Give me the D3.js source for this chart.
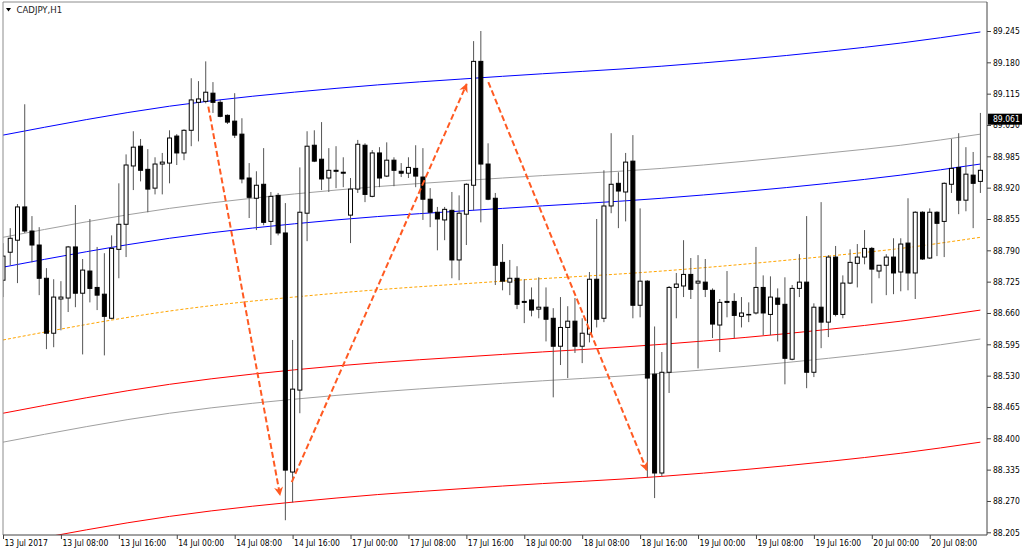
<!DOCTYPE html>
<html>
<head>
<meta charset="utf-8">
<script src="https://cdn.jsdelivr.net/npm/d3@7"></script>
<style>
body { margin: 0; background: #fff; }
svg { display: block; }
</style>
</head>
<body>
<svg id="chart" width="1024" height="554"></svg>
<script>
// CADJPY H1, 13 Jul 2017 00:00 .. 20 Jul 2017 15:00 (bar 0 .. 135)
var symbolTitle = "CADJPY,H1"

var opens = [88.728,88.786,88.811,88.880,88.830,88.801,88.732,88.618,88.689,88.691,
88.797,88.701,88.747,88.713,88.699,88.649,88.792,88.844,88.965,89.006,
88.958,88.919,88.969,88.971,89.027,88.992,89.039,89.097,89.099,89.116,
89.097,89.070,89.058,89.031,88.940,88.898,88.927,88.850,88.904,88.826,
88.330,88.500,88.867,89.008,88.979,88.940,88.956,88.952,88.863,88.917,
89.008,88.902,88.992,88.944,88.977,88.954,88.950,88.960,88.942,88.896,
88.869,88.853,88.873,88.770,88.865,88.925,89.182,88.969,88.898,88.765,
88.724,88.732,88.684,88.687,88.668,88.672,88.649,88.591,88.630,88.643,
88.591,88.616,88.730,88.649,88.882,88.929,88.911,88.975,88.676,88.726,
88.533,88.328,88.537,88.713,88.716,88.740,88.722,88.724,88.707,88.635,
88.684,88.684,88.653,88.657,88.660,88.713,88.657,88.691,88.678,88.564,
88.711,88.724,88.537,88.672,88.641,88.776,88.657,88.722,88.763,88.776,
88.794,88.747,88.759,88.776,88.745,88.805,88.743,88.869,88.774,88.869,
88.850,88.927,88.962,88.894,88.946,88.933]

var highs = [88.805,88.836,88.886,89.093,88.861,88.838,88.753,88.730,88.726,88.799,
88.884,88.772,88.855,88.797,88.784,88.821,88.929,88.989,89.037,89.021,
89.000,88.983,88.992,89.039,89.031,89.041,89.147,89.141,89.182,89.139,
89.102,89.072,89.116,89.064,88.971,88.954,89.002,88.911,88.909,88.888,
88.604,88.962,89.037,89.039,89.056,89.002,89.006,88.983,88.940,89.019,
89.012,88.998,89.004,89.014,88.983,88.971,88.983,89.008,89.002,88.919,
88.880,88.880,88.911,88.904,88.929,89.224,89.245,89.012,88.909,88.803,
88.770,88.757,88.730,88.713,88.734,88.713,88.670,88.693,88.674,88.691,
88.649,88.745,88.855,88.956,89.033,88.952,88.992,89.029,88.877,88.728,
88.632,88.579,88.716,88.743,88.811,88.774,88.780,88.772,88.711,88.689,
88.747,88.701,88.693,88.682,88.797,88.738,88.736,88.711,88.734,88.718,
88.782,88.861,88.680,88.890,88.780,88.799,88.738,88.792,88.803,88.832,
88.797,88.759,88.782,88.815,88.815,88.898,88.871,88.871,88.877,88.871,
88.931,89.021,89.033,89.004,88.994,89.075]

var lows = [88.693,88.759,88.722,88.826,88.765,88.697,88.585,88.589,88.624,88.662,
88.672,88.574,88.682,88.666,88.572,88.647,88.732,88.776,88.915,88.933,
88.869,88.906,88.906,88.929,88.967,88.977,89.006,89.016,89.095,89.075,
89.066,89.052,89.023,88.929,88.857,88.832,88.842,88.801,88.821,88.230,
88.267,88.452,88.809,88.973,88.915,88.911,88.919,88.921,88.805,88.909,
88.890,88.900,88.921,88.942,88.923,88.942,88.940,88.921,88.853,88.838,
88.790,88.811,88.732,88.728,88.801,88.873,88.848,88.894,88.718,88.707,
88.697,88.668,88.639,88.653,88.649,88.601,88.485,88.552,88.525,88.577,
88.556,88.599,88.630,88.641,88.867,88.836,88.850,88.649,88.651,88.319,
88.276,88.321,88.494,88.649,88.693,88.689,88.545,88.693,88.608,88.579,
88.651,88.608,88.630,88.641,88.657,88.614,88.614,88.601,88.512,88.562,
88.693,88.504,88.527,88.587,88.610,88.653,88.649,88.720,88.713,88.761,
88.680,88.732,88.697,88.699,88.705,88.707,88.689,88.770,88.772,88.778,
88.776,88.909,88.865,88.871,88.836,88.909]

var closes = [88.778,88.815,88.880,88.830,88.801,88.732,88.618,88.693,88.693,88.797,
88.701,88.749,88.711,88.697,88.653,88.794,88.844,88.967,89.004,88.956,
88.917,88.969,88.973,89.023,88.992,89.039,89.102,89.104,89.118,89.097,
89.068,89.056,89.029,88.938,88.900,88.925,88.848,88.902,88.826,88.334,
88.502,88.869,89.006,88.975,88.938,88.956,88.954,88.950,88.917,89.010,
88.906,88.992,88.940,88.977,88.956,88.950,88.962,88.944,88.896,88.869,
88.855,88.875,88.770,88.867,88.927,89.182,88.969,88.896,88.759,88.726,
88.732,88.678,88.682,88.666,88.672,88.647,88.591,88.630,88.643,88.591,
88.618,88.730,88.647,88.882,88.927,88.913,88.973,88.676,88.726,88.525,
88.328,88.537,88.713,88.720,88.740,88.709,88.726,88.709,88.637,88.682,
88.682,88.655,88.660,88.657,88.713,88.660,88.693,88.678,88.566,88.711,
88.724,88.537,88.672,88.641,88.776,88.657,88.722,88.765,88.776,88.794,
88.751,88.759,88.776,88.743,88.803,88.743,88.869,88.772,88.869,88.846,
88.929,88.960,88.894,88.948,88.929,88.956]

var priceTicks = ["89.245","89.180","89.115","89.050","88.985","88.920","88.855","88.790","88.725",
                  "88.660","88.595","88.530","88.465","88.400","88.335","88.270","88.205"]

var timeTickBars = [0,8,16,24,32,40,48,56,64,72,80,88,96,104,112,120,128]
var timeTickLabels = ["13 Jul 2017","13 Jul 08:00","13 Jul 16:00","14 Jul 00:00","14 Jul 08:00",
                      "14 Jul 16:00","17 Jul 00:00","17 Jul 08:00","17 Jul 16:00","18 Jul 00:00",
                      "18 Jul 08:00","18 Jul 16:00","19 Jul 00:00","19 Jul 08:00","19 Jul 16:00",
                      "20 Jul 00:00","20 Jul 08:00"]

// channel lines, sampled at these bars
var lineBars   = [0, 23, 46, 69, 91, 114, 124, 135]
var blueUpper  = [89.029,89.089,89.126,89.151,89.172,89.203,89.220,89.243]
var grayUpper  = [88.817,88.877,88.915,88.940,88.960,88.992,89.008,89.031]
var blueMiddle = [88.755,88.815,88.853,88.877,88.898,88.929,88.946,88.969]
var orangeMid  = [88.604,88.664,88.701,88.726,88.747,88.778,88.794,88.817]
var redUpper   = [88.452,88.512,88.550,88.574,88.595,88.626,88.643,88.666]
var grayLower  = [88.392,88.452,88.489,88.514,88.535,88.566,88.583,88.606]
var redLower   = [88.178,88.238,88.276,88.301,88.321,88.352,88.369,88.392]

// zigzag arrows [bar, price]
var arrowFrom = [[28.36, 89.088], [39.88, 88.309], [67.03, 89.139]]
var arrowTo   = [[38.26, 88.282], [64.05, 89.135], [88.91, 88.334]]

var lastPrice = 89.061

var plotLeft = 3, plotRight = 987, plotTop = 2, plotBottom = 535
var fontFam = "'DejaVu Sans Condensed', 'DejaVu Sans', sans-serif"

var svg = d3.select("#chart")

var xScale = d3.scaleLinear()
    .domain([0, opens.length - 1])
    .range([3, 980.4])

var yScale = d3.scaleLinear()
    .domain([88.205, 89.245])
    .range([532.3, 31])

svg.append("defs").append("clipPath")
    .attr("id", "plotClip")
    .append("rect")
    .attr("x", plotLeft)
    .attr("y", plotTop)
    .attr("width", plotRight - plotLeft)
    .attr("height", plotBottom - plotTop)

svg.select("defs").append("marker")
    .attr("id", "arrowHead")
    .attr("viewBox", "0 0 10 10")
    .attr("refX", 9)
    .attr("refY", 5)
    .attr("markerWidth", 4.5)
    .attr("markerHeight", 4.5)
    .attr("markerUnits", "strokeWidth")
    .attr("orient", "auto")
    .append("path")
    .attr("d", "M0,0 L10,5 L0,10 L3,5 Z")
    .attr("fill", "#ff5a22")

var plot = svg.append("g").attr("clip-path", "url(#plotClip)")

function drawChannel() {
    var lineFunction = d3.line()
        .x(function(d, i) { return xScale(lineBars[i]) })
        .y(function(d) { return yScale(d) })
        .curve(d3.curveMonotoneX)

    var channel = [
        [redLower, "#ff0000", null],
        [grayLower, "#a0a0a0", null],
        [redUpper, "#ff0000", null],
        [orangeMid, "#ffa500", "3,2"],
        [blueMiddle, "#0000ff", null],
        [grayUpper, "#a0a0a0", null],
        [blueUpper, "#0000ff", null]
    ]
    channel.map(function(c) {
        plot.append("path")
            .attr("d", lineFunction(c[0]))
            .attr("fill", "none")
            .attr("stroke", c[1])
            .attr("stroke-width", 1)
            .attr("stroke-dasharray", c[2])
    })
}

function drawCandles() {
    var candles = plot.append("g").attr("id", "candles")
        .selectAll("g")
        .data(d3.range(opens.length))
        .enter()
        .append("g")

    candles.append("line")
        .attr("x1", function(i) { return xScale(i) })
        .attr("x2", function(i) { return xScale(i) })
        .attr("y1", function(i) { return yScale(highs[i]) })
        .attr("y2", function(i) { return yScale(lows[i]) })
        .attr("stroke", "#555")
        .attr("stroke-width", 1)

    candles.append("rect")
        .attr("x", function(i) { return xScale(i) - 2 })
        .attr("y", function(i) { return yScale(Math.max(opens[i], closes[i])) })
        .attr("width", 4)
        .attr("height", function(i) {
            return Math.max(0.5, Math.abs(yScale(opens[i]) - yScale(closes[i])))
        })
        .attr("fill", function(i) { return closes[i] >= opens[i] ? "#fff" : "#000" })
        .attr("stroke", "#000")
        .attr("stroke-width", 1)
}

function drawArrows() {
    arrowFrom.map(function(a, i) {
        plot.append("line")
            .attr("x1", xScale(a[0]))
            .attr("y1", yScale(a[1]))
            .attr("x2", xScale(arrowTo[i][0]))
            .attr("y2", yScale(arrowTo[i][1]))
            .attr("stroke", "#ff5a22")
            .attr("stroke-width", 2)
            .attr("stroke-dasharray", "6,3")
            .attr("marker-end", "url(#arrowHead)")
    })
}

function drawAxes() {
    var yAxis = d3.axisRight(yScale)
        .tickValues(priceTicks.map(Number))
        .tickFormat(function(d, i) { return priceTicks[i] })
        .tickSize(4)
        .tickPadding(2)

    var ya = svg.append("g")
        .attr("transform", "translate(" + plotRight + ",0)")
        .call(yAxis)
    ya.select(".domain").remove()
    ya.selectAll("line").attr("stroke", "#444")
    ya.selectAll("text")
        .attr("font-family", fontFam)
        .attr("font-size", "8.5px")
        .attr("fill", "#000")

    var xAxis = d3.axisBottom(xScale)
        .tickValues(timeTickBars)
        .tickFormat(function(d, i) { return timeTickLabels[i] })
        .tickSize(4)

    var xa = svg.append("g")
        .attr("transform", "translate(0," + plotBottom + ")")
        .call(xAxis)
    xa.select(".domain").remove()
    xa.selectAll("line").attr("stroke", "#444")
    xa.selectAll("text")
        .attr("text-anchor", "start")
        .attr("x", 1)
        .attr("y", 5)
        .attr("font-family", fontFam)
        .attr("font-size", "8.5px")
        .attr("fill", "#000")

    // frame
    svg.append("path")
        .attr("d", "M" + plotLeft + "," + plotBottom + "V" + plotTop + "H" + plotRight)
        .attr("fill", "none")
        .attr("stroke", "#8c8c8c")
    svg.append("path")
        .attr("d", "M" + plotLeft + "," + plotBottom + "H" + plotRight + "V" + plotTop)
        .attr("fill", "none")
        .attr("stroke", "#444")

    // current price label (covers the top of the 89.050 tick label, as in the terminal)
    var py = yScale(lastPrice)
    svg.append("rect")
        .attr("x", plotRight + 1)
        .attr("y", py - 6)
        .attr("width", 34)
        .attr("height", 11)
        .attr("fill", "#000")
    svg.append("text")
        .attr("x", plotRight + 6)
        .attr("y", py)
        .attr("dy", "0.32em")
        .attr("font-family", fontFam)
        .attr("font-size", "8.5px")
        .attr("fill", "#fff")
        .text(d3.format(".3f")(lastPrice))
}

function drawTitle() {
    svg.append("path")
        .attr("d", "M6,8 L11,8 L8.5,11.5 Z")
        .attr("fill", "#000")
    svg.append("text")
        .attr("x", 16.5)
        .attr("y", 12.5)
        .attr("font-family", fontFam)
        .attr("font-size", "9.5px")
        .attr("fill", "#222")
        .text(symbolTitle)
}

drawChannel()
drawCandles()
drawArrows()
drawAxes()
drawTitle()
</script>
</body>
</html>
